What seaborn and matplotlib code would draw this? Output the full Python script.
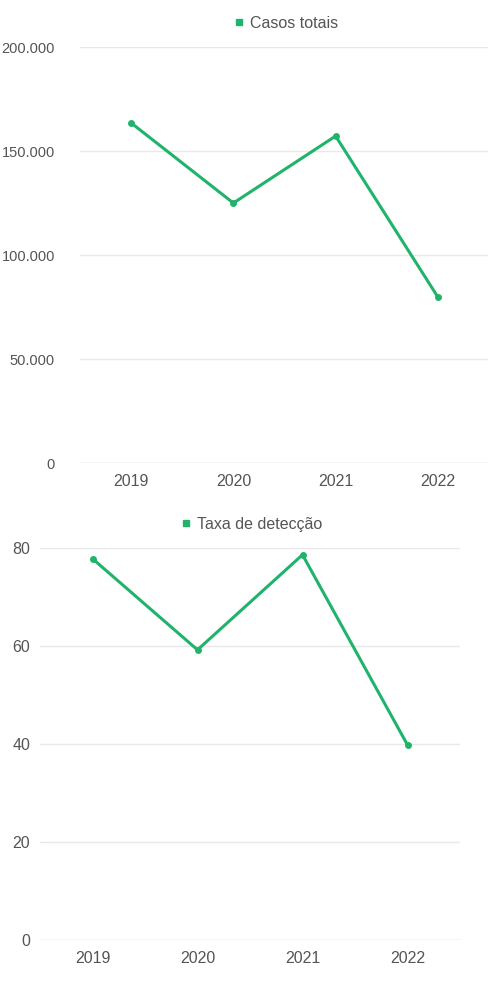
import matplotlib
matplotlib.use("Agg")
import matplotlib.pyplot as plt
from matplotlib.lines import Line2D
from matplotlib.ticker import FuncFormatter, FixedLocator
import seaborn as sns
import pandas as pd

years = ["2019", "2020", "2021", "2022"]
casos_totais = [163500, 125000, 157200, 79800]
taxa_deteccao = [77.8, 59.2, 78.6, 39.8]

label_top = "Casos totais"
label_bottom = "Taxa de detecção"

green = "#1fb36b"
text_col = "#555555"

sns.set_theme(style="white")
plt.rcParams["font.family"] = ["Liberation Sans", "DejaVu Sans"]

fig = plt.figure(figsize=(4.89, 9.86), dpi=100)
ax1 = fig.add_axes([0.1636, 0.5304, 0.8364, 0.4219])
ax2 = fig.add_axes([0.0818, 0.0467, 0.8589, 0.3976])

df1 = pd.DataFrame({"ano": years, "valor": casos_totais})
df2 = pd.DataFrame({"ano": years, "valor": taxa_deteccao})

FS = 11.5


def style(ax, df, ticks, ymax, fmt, ypad, ysize, label):
    sns.lineplot(data=df, x="ano", y="valor", ax=ax, color=green, linewidth=2.2,
                 marker="o", markersize=5, markeredgewidth=0, sort=False, zorder=3)
    ax.set_xlim(-0.5, 3.5)
    ax.set_ylim(0, ymax)
    ax.yaxis.set_major_locator(FixedLocator(ticks))
    ax.yaxis.set_major_formatter(FuncFormatter(fmt))
    for t in ticks:
        ax.axhline(t, color="#cccccc" if t == 0 else "#e8e8e8", linewidth=1.0, zorder=1)
    for s in ax.spines.values():
        s.set_visible(False)
    ax.grid(False)
    ax.set_xlabel("")
    ax.set_ylabel("")
    ax.tick_params(axis="y", length=0, pad=ypad, labelsize=ysize, labelcolor=text_col)
    ax.tick_params(axis="x", length=0, pad=8, labelsize=FS, labelcolor=text_col)
    handle = Line2D([], [], color=green, marker="s", linestyle="none", markersize=5)
    ax.legend([handle], [label], loc="lower center", bbox_to_anchor=(0.5, 1.0),
              frameon=False, fontsize=FS, labelcolor=text_col, handletextpad=0.2,
              handlelength=1.0, borderaxespad=0.6)


style(ax1, df1, [0, 50000, 100000, 150000, 200000], 200000,
      lambda v, p: f"{int(v):,}".replace(",", "."), 18, 10.5, label_top)
style(ax2, df2, [0, 20, 40, 60, 80], 80,
      lambda v, p: f"{int(v)}", 7, 11.5, label_bottom)

fig.savefig("out.png", dpi=100, facecolor="white")
